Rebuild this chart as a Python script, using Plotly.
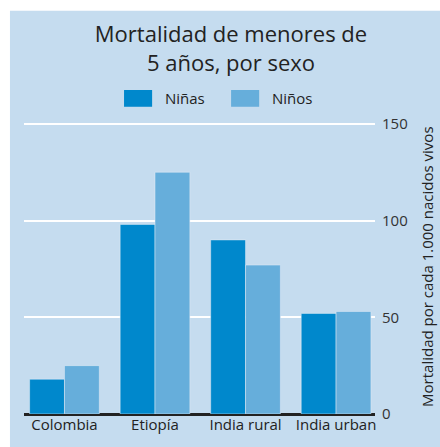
import plotly.graph_objects as go

categories = ["Colombia", "Etiopía", "India rural", "India urban"]
ninas = [18, 98, 90, 52]
ninos = [25, 125, 77, 53]

PANEL = "#c5dcef"
DARK = "#0088cc"
LIGHT = "#66aedb"
FONT = "Open Sans"

fig = go.Figure()
fig.add_trace(go.Bar(x=categories, y=ninas, name="Niñas", marker_color=DARK))
fig.add_trace(go.Bar(x=categories, y=ninos, name="Niños", marker_color=LIGHT))

# light blue panel behind everything (white border at left and top)
fig.add_shape(type="rect", xref="paper", yref="paper",
              x0=-0.04, x1=1.2, y0=-0.2, y1=1.372,
              fillcolor=PANEL, line_width=0, layer="below")

# hand-made legend with big swatches
for x0, label, col in [(0.285, "Niñas", DARK), (0.59, "Niños", LIGHT)]:
    fig.add_shape(type="rect", xref="paper", yref="paper",
                  x0=x0, x1=x0 + 0.08, y0=1.045, y1=1.102,
                  fillcolor=col, line_width=0)
    fig.add_annotation(x=x0 + 0.111, y=1.0735, xref="paper", yref="paper",
                       text=label, showarrow=False,
                       xanchor="left", yanchor="middle",
                       font=dict(family=FONT, size=15, color="#222"))

fig.add_annotation(x=1.148, y=0.5, xref="paper", yref="paper",
                   text="Mortalidad por cada 1.000 nacidos vivos",
                   textangle=-90, showarrow=False,
                   xanchor="center", yanchor="middle",
                   font=dict(family=FONT, size=15, color="#222"))

fig.update_layout(
    width=440, height=447,
    margin=dict(l=24, r=65, t=120, b=33),
    paper_bgcolor="white",
    plot_bgcolor=PANEL,
    barmode="group",
    bargap=0.23,
    bargroupgap=0,
    showlegend=False,
    title=dict(text="Mortalidad de menores de<br>5 años, por sexo",
               x=0.525, xanchor="center", y=0.905, yanchor="top",
               font=dict(family=FONT, size=22, color="#222")),
    font=dict(family=FONT, size=15, color="#222"),
)
fig.update_xaxes(range=[-0.447, 3.43], showgrid=False, ticks="",
                 automargin=False,
                 tickfont=dict(size=15, color="#222"))
fig.update_yaxes(side="right", range=[0, 152], tickvals=[0, 50, 100, 150],
                 gridcolor="white", gridwidth=2, automargin=False,
                 zeroline=True, zerolinecolor="#222", zerolinewidth=2.5,
                 ticks="", ticklabelstandoff=6,
                 tickfont=dict(size=15, color="#333"))

# drop the page's default body margin so the figure sits at the window corner
fig.write_html("out.html", config={"displayModeBar": False},
               post_script="document.body.style.margin='0';")
